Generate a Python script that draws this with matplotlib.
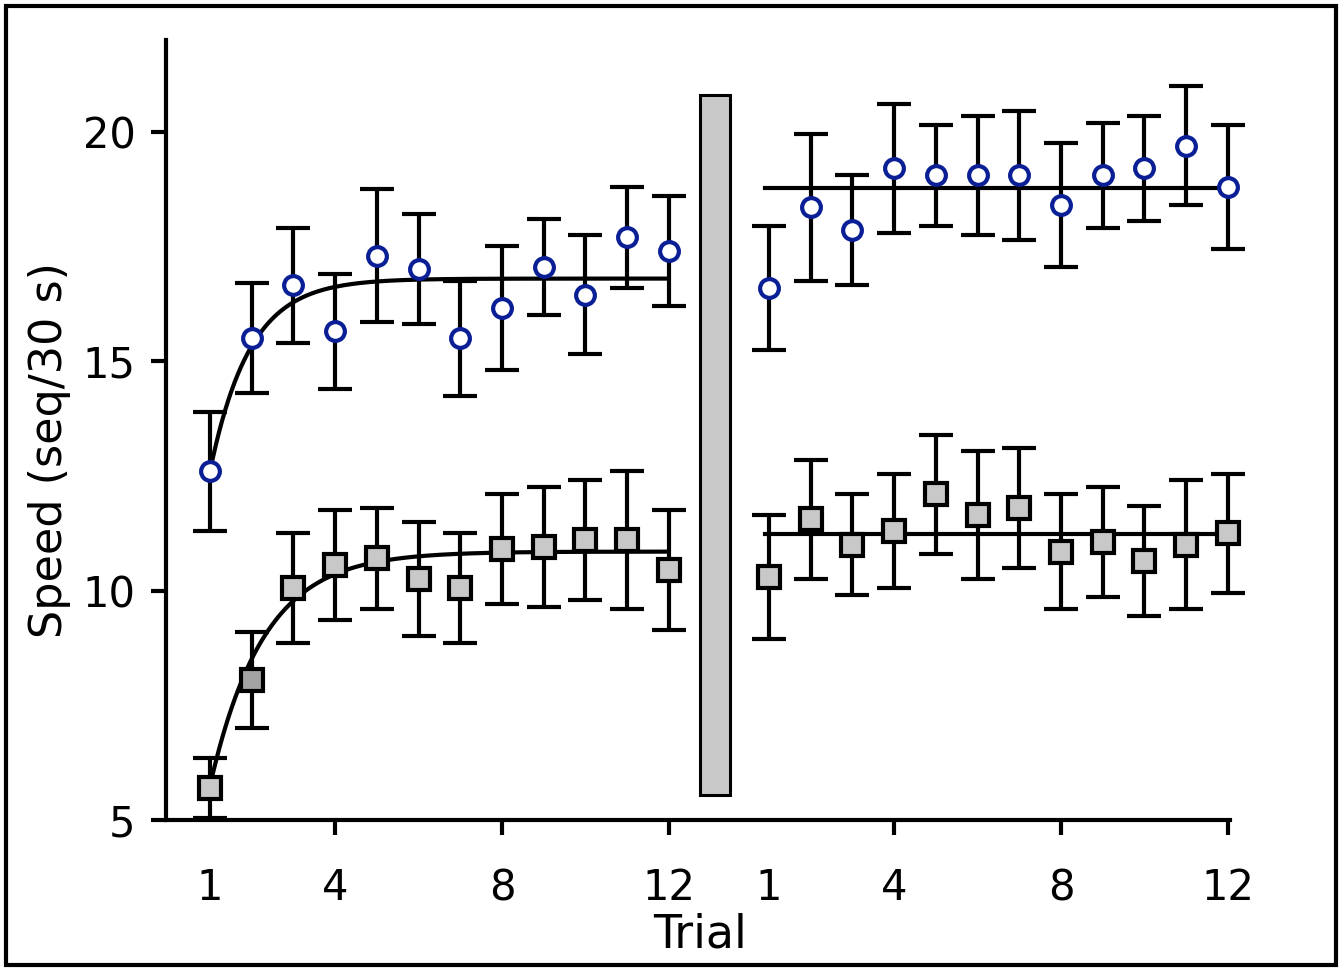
import numpy as np
import matplotlib
matplotlib.use("Agg")
import matplotlib.pyplot as plt
from matplotlib.patches import Rectangle

# ---------------- data ----------------
trials = list(range(1, 13))
tick_trials = [1, 4, 8, 12]

circ_pre = [12.6, 15.5, 16.65, 15.65, 17.3, 17.0, 15.5, 16.15, 17.05, 16.45, 17.7, 17.4]
circ_pre_err = [1.3, 1.2, 1.25, 1.25, 1.45, 1.2, 1.25, 1.35, 1.05, 1.3, 1.1, 1.2]
circ_post = [16.6, 18.35, 17.85, 19.2, 19.05, 19.05, 19.05, 18.4, 19.05, 19.2, 19.7, 18.8]
circ_post_err = [1.35, 1.6, 1.2, 1.4, 1.1, 1.3, 1.4, 1.35, 1.15, 1.15, 1.3, 1.35]

sq_pre = [5.7, 8.05, 10.05, 10.55, 10.7, 10.25, 10.05, 10.9, 10.95, 11.1, 11.1, 10.45]
sq_pre_err = [0.65, 1.05, 1.2, 1.2, 1.1, 1.25, 1.2, 1.2, 1.3, 1.3, 1.5, 1.3]
sq_post = [10.3, 11.55, 11.0, 11.3, 12.1, 11.65, 11.8, 10.85, 11.05, 10.65, 11.0, 11.25]
sq_post_err = [1.35, 1.3, 1.1, 1.25, 1.3, 1.4, 1.3, 1.25, 1.2, 1.2, 1.4, 1.3]

# fitted exponential curves (pre) : asymptote, amplitude, rate
circ_fit = (16.8, 4.2, 1.05)
sq_fit = (10.85, 5.1, 0.78)
# flat fit levels (post)
circ_post_level = 18.78
sq_post_level = 11.24

# ---------------- layout ----------------
offset = 13.4  # x shift of post session
bar_x = 13.1
bar_w = 0.72
bar_y0, bar_y1 = 5.55, 20.8

fig = plt.figure(figsize=(13.42, 9.71), dpi=100)
ax = fig.add_axes([166 / 1342, 1 - 820 / 971, (1230 - 166) / 1342, (820 - 40) / 971])
ax.set_xlim(-0.055, 25.45)
ax.set_ylim(5, 22)

for s in ["top", "right"]:
    ax.spines[s].set_visible(False)
for s in ["left", "bottom"]:
    ax.spines[s].set_linewidth(3)

lw = 3
blue = "#0a1e96"
light = "#c8c8c8"
dark = "#a4a4a4"

x_pre = np.array(trials, dtype=float)
x_post = x_pre + offset

# fitted lines
tt = np.linspace(1, 12, 300)
A, B, k = circ_fit
ax.plot(tt, A - B * np.exp(-k * (tt - 1)), color="black", lw=lw, zorder=3)
A, B, k = sq_fit
ax.plot(tt, A - B * np.exp(-k * (tt - 1)), color="black", lw=lw, zorder=3)
ax.plot([0.9 + offset, 12 + offset], [circ_post_level] * 2, color="black", lw=lw, zorder=3)
ax.plot([0.9 + offset, 12 + offset], [sq_post_level] * 2, color="black", lw=lw, zorder=3)

ekw = dict(fmt="none", ecolor="black", elinewidth=lw, capsize=12.5, capthick=lw, zorder=2)
for xs, ys, es in [(x_pre, circ_pre, circ_pre_err), (x_post, circ_post, circ_post_err),
                   (x_pre, sq_pre, sq_pre_err), (x_post, sq_post, sq_post_err)]:
    cont = ax.errorbar(xs, ys, yerr=es, **ekw)
    for art in cont.lines[1] + cont.lines[2]:
        art.set_clip_on(False)

# circles
for xs, ys in [(x_pre, circ_pre), (x_post, circ_post)]:
    ax.plot(xs, ys, "o", ms=13.5, mfc="white", mec=blue, mew=3, ls="none",
            zorder=5, clip_on=False)

# squares
sq_colors_pre = [light, dark] + [light] * 10
for xv, yv, c in zip(x_pre, sq_pre, sq_colors_pre):
    ax.plot([xv], [yv], "s", ms=15.5, mfc=c, mec="black", mew=3, zorder=5, clip_on=False)
ax.plot(x_post, sq_post, "s", ms=15.5, mfc=light, mec="black", mew=3, ls="none",
        zorder=5, clip_on=False)

# gray separator bar
ax.add_patch(Rectangle((bar_x - bar_w / 2, bar_y0), bar_w, bar_y1 - bar_y0,
                       facecolor=light, edgecolor="black", lw=2.2, zorder=4))

# ticks
ax.set_yticks([5, 10, 15, 20])
ax.set_yticklabels(["5", "10", "15", "20"])
xt = list(tick_trials) + [t + offset for t in tick_trials]
ax.set_xticks(xt)
ax.set_xticklabels([str(t) for t in tick_trials] * 2)
ax.tick_params(axis="both", direction="out", length=11, width=3, labelsize=30)
ax.tick_params(axis="y", pad=11)
ax.tick_params(axis="x", pad=23)
# hide tick marks at trial 1 positions
for i, tl in enumerate(ax.xaxis.get_major_ticks()):
    if xt[i] in (1, 1 + offset):
        tl.tick1line.set_visible(False)

fig.text(700 / 1342, 1 - 935 / 971, "Trial", fontsize=33, ha="center", va="center")
fig.text(50 / 1342, 1 - 450 / 971, "Speed (seq/30 s)", fontsize=32, ha="center",
         va="center", rotation=90)

# figure border
fig.add_artist(Rectangle((6 / 1342, 6 / 971), 1 - 12 / 1342, 1 - 12 / 971,
                         transform=fig.transFigure, fill=False, edgecolor="black", lw=3))

fig.savefig("out.png", dpi=100)
